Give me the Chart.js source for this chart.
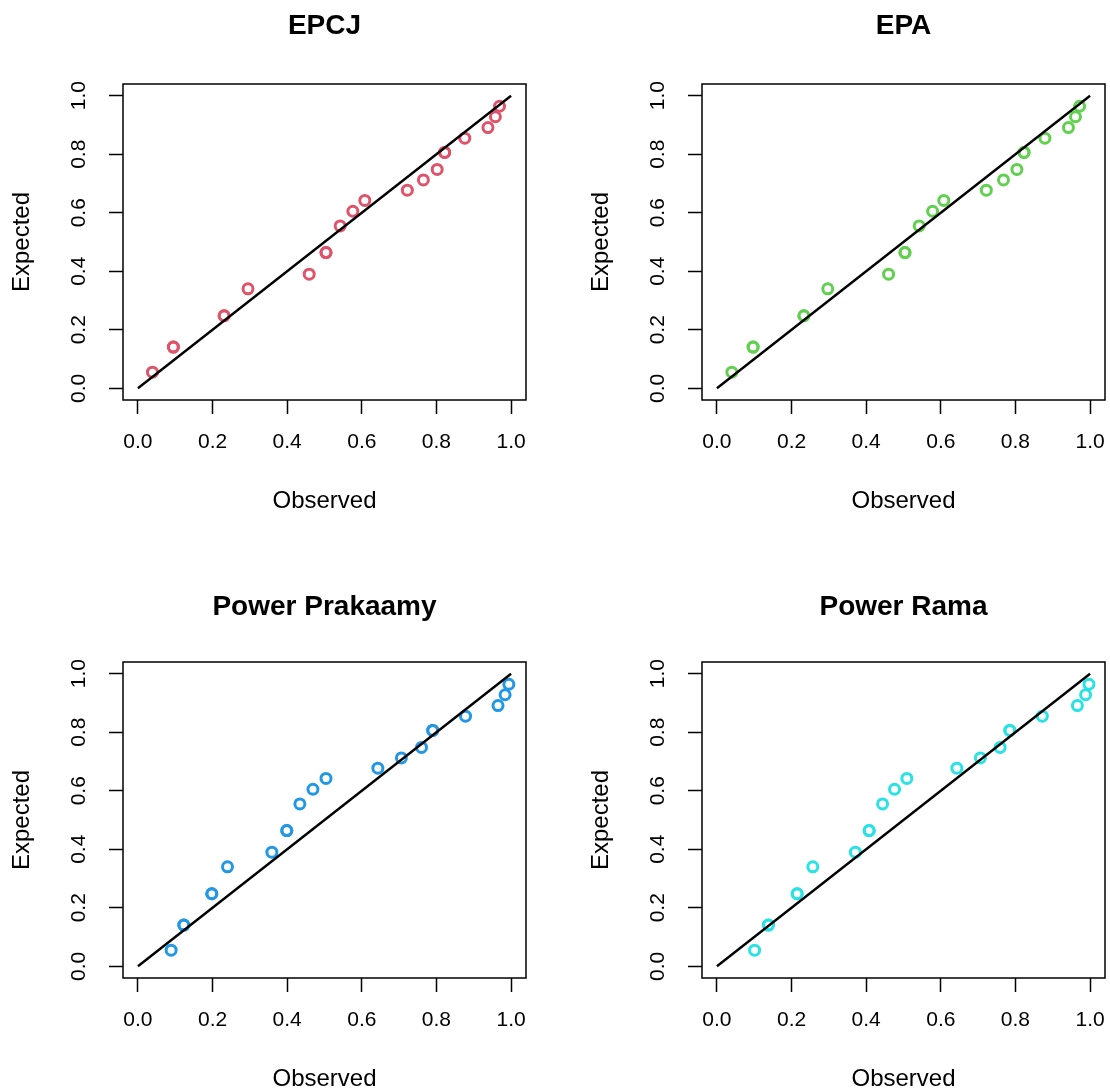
<!DOCTYPE html>
<html>
<head>
<title>Observed vs Expected</title>
<script src="https://cdn.jsdelivr.net/npm/chart.js"></script>
<style>
  body { margin: 0; background: #fff; overflow: hidden; }
  .panel { position: absolute; width: 534px; height: 513px; }
</style>
</head>
<body>
<div class="panel" style="left:0px;top:0px"><canvas id="c0"></canvas></div>
<div class="panel" style="left:579px;top:0px"><canvas id="c1"></canvas></div>
<div class="panel" style="left:0px;top:578px"><canvas id="c2"></canvas></div>
<div class="panel" style="left:579px;top:578px"><canvas id="c3"></canvas></div>
<script>
const titles = ['EPCJ', 'EPA', 'Power Prakaamy', 'Power Rama'];
const colors = ['#DF536B', '#61D04F', '#2297E6', '#28E2E5'];
const tickValues = [0, 0.2, 0.4, 0.6, 0.8, 1.0];
const refLine = [0, 1];

// expected values are the same in every panel (tied points appear twice)
const expected = [0.055, 0.141, 0.141, 0.248, 0.248, 0.340, 0.390, 0.464, 0.464, 0.555, 0.605,
                  0.642, 0.677, 0.712, 0.748, 0.806, 0.806, 0.855, 0.891, 0.928, 0.964];
const observedEPCJ = [0.039, 0.095, 0.095, 0.231, 0.231, 0.295, 0.459, 0.504, 0.504, 0.542, 0.576,
                      0.608, 0.722, 0.765, 0.802, 0.822, 0.822, 0.876, 0.938, 0.958, 0.969];
const observedEPA = [0.040, 0.097, 0.097, 0.233, 0.233, 0.297, 0.460, 0.504, 0.504, 0.542, 0.578,
                     0.608, 0.722, 0.768, 0.804, 0.823, 0.823, 0.879, 0.942, 0.961, 0.972];
const observedPrakaamy = [0.089, 0.123, 0.123, 0.198, 0.198, 0.240, 0.359, 0.399, 0.399, 0.434, 0.469,
                          0.504, 0.643, 0.706, 0.760, 0.790, 0.790, 0.878, 0.965, 0.984, 0.994];
const observedRama = [0.101, 0.138, 0.138, 0.215, 0.215, 0.257, 0.371, 0.408, 0.408, 0.444, 0.476,
                      0.509, 0.643, 0.706, 0.759, 0.785, 0.785, 0.872, 0.966, 0.988, 0.997];
const observed = [observedEPCJ, observedEPA, observedPrakaamy, observedRama];

const FONT = 'Liberation Sans, Arial, Helvetica, sans-serif';

// draws the R style box round the plot region
const boxPlugin = {
  id: 'box',
  afterDraw(chart) {
    const a = chart.chartArea, ctx = chart.ctx;
    ctx.save();
    ctx.strokeStyle = '#000';
    ctx.lineWidth = 1.5;
    ctx.strokeRect(a.left, a.top, a.right - a.left, a.bottom - a.top);
    ctx.restore();
  }
};

function axis(isX) {
  return {
    type: 'linear',
    min: -0.04,
    max: 1.04,
    afterBuildTicks: s => { s.ticks = tickValues.map(v => ({value: v})); },
    afterFit: s => {
      if (isX) s.height = 113; else s.width = 123;
      s.paddingLeft = 0; s.paddingRight = 0; s.paddingTop = 0; s.paddingBottom = 0;
    },
    grid: {drawOnChartArea: false, drawTicks: true, tickLength: 14, tickWidth: 1.5, tickColor: '#000'},
    border: {display: false},
    ticks: isX
      ? {color: '#000', font: {family: FONT, size: 21}, padding: 16, callback: v => v.toFixed(1)}
      : {color: '#000', font: {family: FONT, size: 21}, padding: 15, minRotation: 90, maxRotation: 90,
         crossAlign: 'center', callback: v => v.toFixed(1)},
    title: isX
      ? {display: true, text: 'Observed', color: '#000', font: {family: FONT, size: 24, lineHeight: 1}, padding: {top: 0, bottom: 0}}
      : {display: true, text: 'Expected', color: '#000', font: {family: FONT, size: 24, lineHeight: 1}, padding: {top: 10, bottom: 0}}
  };
}

titles.forEach((t, i) => {
  const topRow = i < 2;
  const obs = observed[i];
  new Chart(document.getElementById('c' + i), {
    type: 'scatter',
    data: {
      datasets: [{
        data: obs.map((x, k) => ({x: x, y: expected[k]})),
        pointStyle: 'circle',
        pointRadius: 5,
        pointBorderWidth: 3,
        pointBorderColor: colors[i],
        pointBackgroundColor: 'rgba(0,0,0,0)',
        order: 1
      }, {
        type: 'line',
        data: refLine.map(v => ({x: v, y: v})),
        showLine: true,
        borderColor: '#000',
        borderWidth: 2.4,
        pointRadius: 0,
        order: 0
      }]
    },
    options: {
      responsive: true,
      maintainAspectRatio: false,
      animation: false,
      events: [],
      layout: {padding: {left: 0, top: 0, right: 2, bottom: 0}},
      plugins: {
        legend: {display: false},
        tooltip: {enabled: false},
        title: {
          display: true,
          text: t,
          color: '#000',
          fullSize: false,
          font: {family: FONT, size: 28, weight: 'bold'},
          padding: topRow ? {top: 9, bottom: 41.4} : {top: 12, bottom: 38.4}
        }
      },
      scales: {x: axis(true), y: axis(false)}
    },
    plugins: [boxPlugin]
  });
});
</script>
</body>
</html>
